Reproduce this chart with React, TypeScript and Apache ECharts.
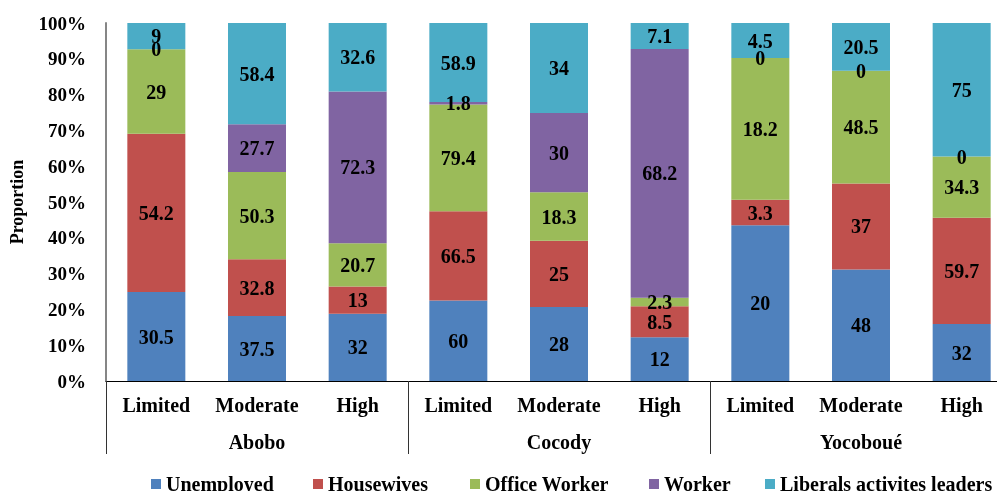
import React, { useEffect, useRef } from "react";
import * as echarts from "echarts";

const levels = ["Limited", "Moderate", "High", "Limited", "Moderate", "High", "Limited", "Moderate", "High"];
const communes = ["Abobo", "Cocody", "Yocoboué"];
const seriesNames = ["Unemployed", "Housewives", "Office Worker", "Worker", "Liberals activites leaders"];
const unemployed = [30.5, 37.5, 32, 60, 28, 12, 20, 48, 32];
const housewives = [54.2, 32.8, 13, 66.5, 25, 8.5, 3.3, 37, 59.7];
const officeWorker = [29, 50.3, 20.7, 79.4, 18.3, 2.3, 18.2, 48.5, 34.3];
const worker = [0, 27.7, 72.3, 1.8, 30, 68.2, 0, 0, 0];
const liberals = [9, 58.4, 32.6, 58.9, 34, 7.1, 4.5, 20.5, 75];
const colors = ["#4F81BD", "#C0504D", "#9BBB59", "#8064A2", "#4BACC6"];
const yTicks = [0, 10, 20, 30, 40, 50, 60, 70, 80, 90, 100];

const FONT = "'Liberation Serif', 'Times New Roman', serif";

export default function App() {
  const ref = useRef<HTMLDivElement>(null);
  useEffect(() => {
    if (!ref.current) return;
    const chart = echarts.init(ref.current, undefined, { renderer: "svg" });
    const raw = [unemployed, housewives, officeWorker, worker, liberals];
    const totals = levels.map((_, i) => raw.reduce((s, arr) => s + arr[i], 0));
    const legendLefts = [151, 313, 470, 649, 765];
    chart.setOption({
      animation: false,
      grid: { left: 105.6, right: 8, top: 23, bottom: 110, containLabel: false },
      legend: seriesNames.map((n, i) => ({
        data: [n],
        left: legendLefts[i],
        top: 474,
        padding: 0,
        itemWidth: 10,
        itemHeight: 10,
        icon: "rect",
        itemGap: 5,
        textStyle: { fontFamily: FONT, fontWeight: "bold", fontSize: 20, color: "#000", lineHeight: 20, padding: [0, 0, 0, 0] },
      })),
      xAxis: [
        {
          type: "category",
          data: levels,
          position: "bottom",
          axisLine: { show: true, lineStyle: { color: "#000", width: 1 } },
          axisTick: { show: false },
          axisLabel: { interval: 0, margin: 14, fontFamily: FONT, fontWeight: "bold", fontSize: 20, color: "#000" },
        },
        {
          type: "category",
          data: communes,
          position: "bottom",
          axisLine: { show: false },
          axisTick: { show: true, length: 73, inside: false, interval: 0, lineStyle: { color: "#333", width: 1 } },
          axisLabel: { interval: 0, margin: 51, fontFamily: FONT, fontWeight: "bold", fontSize: 20, color: "#000" },
        },
      ],
      yAxis: {
        type: "value",
        min: 0,
        max: 100,
        interval: 10,
        name: "Proportion",
        nameLocation: "middle",
        nameRotate: 90,
        nameGap: 80,
        nameTextStyle: { fontFamily: FONT, fontWeight: "bold", fontSize: 18, color: "#000" },
        axisLine: { show: true, lineStyle: { color: "#868686", width: 2 } },
        axisTick: { show: false },
        splitLine: { show: false },
        axisLabel: {
          margin: 20,
          fontFamily: FONT,
          fontWeight: "bold",
          fontSize: 19,
          color: "#000",
          formatter: (v: number) => (yTicks.includes(v) ? v + "%" : ""),
        },
      },
      series: seriesNames.map((n, si) => ({
        name: n,
        type: "bar",
        stack: "total",
        xAxisIndex: 0,
        barWidth: 58,
        itemStyle: { color: colors[si] },
        label: {
          show: true,
          position: "inside",
          fontFamily: FONT,
          fontWeight: "bold",
          fontSize: 20,
          color: "#000",
          formatter: (p: any) => String(raw[si][p.dataIndex]),
        },
        data: raw[si].map((v, i) => (v / totals[i]) * 100),
      })),
    });
    return () => chart.dispose();
  }, []);
  return (
    <div style={{ position: "fixed", left: 0, top: 0, width: 997, height: 491, overflow: "hidden" }}>
      <div ref={ref} style={{ position: "absolute", left: 0, top: 0, width: 1020, height: 491 }} />
    </div>
  );
}
